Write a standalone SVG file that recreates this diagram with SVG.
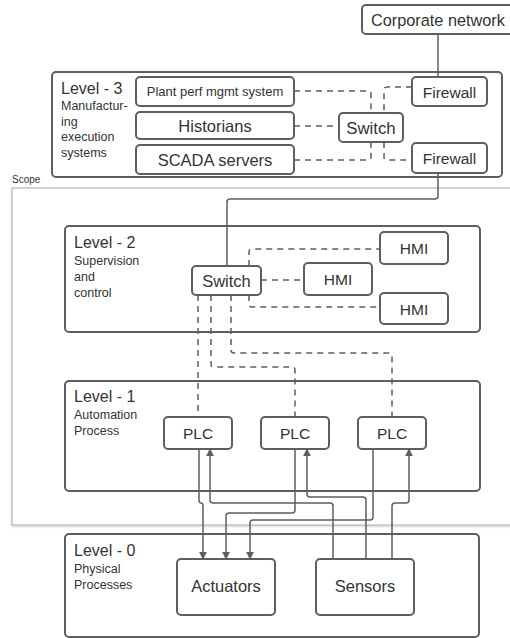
<svg xmlns="http://www.w3.org/2000/svg" width="510" height="638" viewBox="0 0 510 638">
<defs>
  <style>
    .box{fill:#fff;stroke:#5e5e5e;stroke-width:2}
    .lvl{fill:none;stroke:#5e5e5e;stroke-width:2}
    .t{font-family:"Liberation Sans",Arial,sans-serif;fill:#333}
    .c{text-anchor:middle}
    .dash{fill:none;stroke:#5e5e5e;stroke-width:1.5;stroke-dasharray:6 5}
    .wire{fill:none;stroke:#5e5e5e;stroke-width:1.5}
  </style>
  <marker id="arr" viewBox="0 0 10 10" refX="9" refY="5" markerWidth="8" markerHeight="8" markerUnits="userSpaceOnUse" orient="auto">
    <path d="M0,0 L10,5 L0,10 z" fill="#5e5e5e"/>
  </marker>
  <filter id="shadow" x="-5%" y="-5%" width="110%" height="110%">
    <feDropShadow dx="0" dy="1" stdDeviation="1" flood-color="#000" flood-opacity="0.2"/>
  </filter>
</defs>

<!-- scope frame -->
<g id="scope">
  <text class="t" x="12" y="183" font-size="10">Scope</text>
  <rect x="12" y="188" width="510" height="337" fill="#fff" stroke="#a6abb0" stroke-width="1" filter="url(#shadow)"/>
</g>

<!-- level containers -->
<g id="level3">
  <rect class="lvl" x="52" y="72" width="450" height="105" rx="4"/>
  <text class="t" x="61" y="94" font-size="16">Level - 3</text>
  <text class="t" x="61" y="110" font-size="12.5">Manufactur-</text>
  <text class="t" x="61" y="126" font-size="12.5">ing</text>
  <text class="t" x="61" y="141" font-size="12.5">execution</text>
  <text class="t" x="61" y="157" font-size="12.5">systems</text>
</g>
<g id="level2">
  <rect class="lvl" x="65" y="226" width="415" height="106" rx="4"/>
  <text class="t" x="74" y="248" font-size="16">Level - 2</text>
  <text class="t" x="74" y="265" font-size="12.5">Supervision</text>
  <text class="t" x="74" y="281" font-size="12.5">and</text>
  <text class="t" x="74" y="297" font-size="12.5">control</text>
</g>
<g id="level1">
  <rect class="lvl" x="65" y="381" width="415" height="110" rx="4"/>
  <text class="t" x="74" y="402" font-size="16">Level - 1</text>
  <text class="t" x="74" y="419" font-size="12.5">Automation</text>
  <text class="t" x="74" y="435" font-size="12.5">Process</text>
</g>
<g id="level0">
  <rect class="lvl" x="65" y="534" width="414" height="103" rx="4"/>
  <text class="t" x="74" y="556" font-size="16">Level - 0</text>
  <text class="t" x="74" y="573" font-size="12.5">Physical</text>
  <text class="t" x="74" y="589" font-size="12.5">Processes</text>
</g>

<!-- connectors -->
<g id="connectors">
  <!-- corporate uplink -->
  <path class="wire" d="M438,34 V77"/>
  <path class="wire" d="M438,173 V196 q0,3 -3,3 H230 q-3,0 -3,3 V266"/>
  <!-- level 3 network -->
  <path class="dash" d="M294,91 H368 q3,0 3,3 V113"/>
  <path class="dash" d="M294,126 H339"/>
  <path class="dash" d="M294,160 H368 q3,0 3,-3 V142"/>
  <path class="dash" d="M412,87 H387 q-3,0 -3,3 V113"/>
  <path class="dash" d="M384,142 V157 q0,3 3,3 H412"/>
  <!-- level 2 network -->
  <path class="dash" d="M249,266 V252 q0,-3 3,-3 H380"/>
  <path class="dash" d="M261,280 H304"/>
  <path class="dash" d="M249,295 V304 q0,3 3,3 H380"/>
  <!-- switch to PLCs -->
  <path class="dash" d="M198,295 V417"/>
  <path class="dash" d="M211,295 V364 q0,3 3,3 H292 q3,0 3,3 V417"/>
  <path class="dash" d="M231,295 V350 q0,3 3,3 H389 q3,0 3,3 V417"/>
  <!-- PLC outputs to actuators -->
  <path class="wire" marker-end="url(#arr)" d="M199,449 V500 q0,3 2,3 q2,0 2,3 V559"/>
  <path class="wire" marker-end="url(#arr)" d="M295,449 V510 q0,3 -3,3 H229 q-3,0 -3,3 V559"/>
  <path class="wire" marker-end="url(#arr)" d="M373,449 V517 q0,3 -3,3 H253 q-3,0 -3,3 V559"/>
  <!-- sensor inputs to PLCs -->
  <path class="wire" marker-end="url(#arr)" d="M333,559 V506 q0,-3 -3,-3 H213 q-3,0 -3,-3 V449"/>
  <path class="wire" marker-end="url(#arr)" d="M366,559 V500 q0,-3 -3,-3 H310 q-3,0 -3,-3 V449"/>
  <path class="wire" marker-end="url(#arr)" d="M392,559 V506 q0,-3 3,-3 H406 q3,0 3,-3 V449"/>
</g>

<!-- nodes -->
<g id="corporate-network">
  <rect class="box" x="362" y="5" width="156" height="29" rx="4"/>
  <text class="t" x="371" y="26" font-size="16.3">Corporate network</text>
</g>
<g id="plant-perf">
  <rect class="box" x="136" y="77" width="158" height="29" rx="4"/>
  <text class="t c" x="215" y="96" font-size="13">Plant perf mgmt system</text>
</g>
<g id="historians">
  <rect class="box" x="136" y="112" width="158" height="27" rx="4"/>
  <text class="t c" x="215" y="132" font-size="16.5">Historians</text>
</g>
<g id="scada">
  <rect class="box" x="136" y="145" width="158" height="29" rx="4"/>
  <text class="t c" x="215" y="166" font-size="16.5">SCADA servers</text>
</g>
<g id="switch-l3">
  <rect class="box" x="339" y="113" width="64" height="29" rx="4"/>
  <text class="t c" x="371" y="134" font-size="16.8">Switch</text>
</g>
<g id="firewall-top">
  <rect class="box" x="412" y="77" width="75" height="29" rx="4"/>
  <text class="t c" x="449.5" y="98" font-size="15.5">Firewall</text>
</g>
<g id="firewall-bottom">
  <rect class="box" x="412" y="143" width="75" height="30" rx="4"/>
  <text class="t c" x="449.5" y="164" font-size="15.5">Firewall</text>
</g>
<g id="switch-l2">
  <rect class="box" x="192" y="266" width="69" height="29" rx="4"/>
  <text class="t c" x="226.5" y="287" font-size="16.5">Switch</text>
</g>
<g id="hmi-top">
  <rect class="box" x="380" y="232" width="68" height="32" rx="4"/>
  <text class="t c" x="414" y="254" font-size="15.5">HMI</text>
</g>
<g id="hmi-mid">
  <rect class="box" x="304" y="263" width="68" height="32" rx="4"/>
  <text class="t c" x="338" y="285" font-size="15.5">HMI</text>
</g>
<g id="hmi-bottom">
  <rect class="box" x="380" y="293" width="68" height="31" rx="4"/>
  <text class="t c" x="414" y="315" font-size="15.5">HMI</text>
</g>
<g id="plc-1">
  <rect class="box" x="164" y="417" width="68" height="32" rx="4"/>
  <text class="t c" x="198" y="439" font-size="15.5">PLC</text>
</g>
<g id="plc-2">
  <rect class="box" x="261" y="417" width="68" height="32" rx="4"/>
  <text class="t c" x="295" y="439" font-size="15.5">PLC</text>
</g>
<g id="plc-3">
  <rect class="box" x="358" y="417" width="68" height="32" rx="4"/>
  <text class="t c" x="392" y="439" font-size="15.5">PLC</text>
</g>
<g id="actuators">
  <rect class="box" x="177" y="559" width="98" height="56" rx="4"/>
  <text class="t c" x="226" y="592" font-size="16.5">Actuators</text>
</g>
<g id="sensors">
  <rect class="box" x="316" y="559" width="98" height="56" rx="4"/>
  <text class="t c" x="365" y="592" font-size="16.5">Sensors</text>
</g>
</svg>
